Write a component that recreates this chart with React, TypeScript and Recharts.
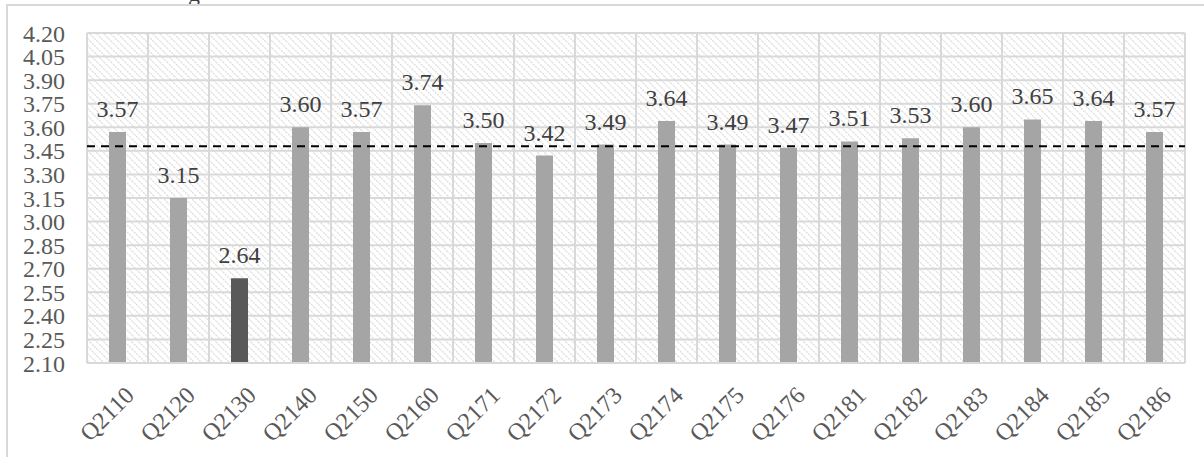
import React from "react";
import {
  BarChart,
  Bar,
  Cell,
  XAxis,
  YAxis,
  CartesianGrid,
  ReferenceLine,
  LabelList,
} from "recharts";

const categories = [
  "Q2110", "Q2120", "Q2130", "Q2140", "Q2150", "Q2160", "Q2171", "Q2172", "Q2173",
  "Q2174", "Q2175", "Q2176", "Q2181", "Q2182", "Q2183", "Q2184", "Q2185", "Q2186",
];
const scores = [
  3.57, 3.15, 2.64, 3.6, 3.57, 3.74, 3.5, 3.42, 3.49,
  3.64, 3.49, 3.47, 3.51, 3.53, 3.6, 3.65, 3.64, 3.57,
];
const highlighted = ["Q2130"];
const yTicks = [2.1, 2.25, 2.4, 2.55, 2.7, 2.85, 3.0, 3.15, 3.3, 3.45, 3.6, 3.75, 3.9, 4.05, 4.2];
const averageScore = 3.48;

const data = categories.map((q, i) => ({ q, score: scores[i] }));

const FONT = "'Liberation Serif', 'Times New Roman', serif";

// vertical grid lines sit on the category boundaries, not the centres
const boundaryLines = ({ offset }: any) => {
  const step = offset.width / categories.length;
  return Array.from({ length: categories.length + 1 }, (_, i) => offset.left + i * step);
};

const XTick = ({ x, y, payload }: any) => (
  <text
    x={x + 6}
    y={y + 14}
    transform={`rotate(-45, ${x + 6}, ${y + 14})`}
    textAnchor="end"
    dominantBaseline="hanging"
    fill="#595959"
    fontSize={24}
    fontFamily={FONT}
  >
    {payload.value}
  </text>
);

export default function App() {
  return (
    <div
      style={{
        position: "absolute",
        left: 0,
        top: 0,
        width: 1204,
        height: 457,
        overflow: "hidden",
        background: "#fff",
      }}
    >
      <div
        style={{
          position: "absolute",
          left: 188,
          top: -17,
          fontFamily: FONT,
          fontSize: 24,
          color: "#404040",
          lineHeight: "20px",
        }}
      >
        g
      </div>
      <div
        style={{
          position: "absolute",
          left: 6,
          top: 4,
          width: 1210,
          height: 470,
          border: "2px solid #d9d9d9",
        }}
      />
      <div style={{ position: "absolute", left: 0, top: 0 }}>
        <BarChart
          width={1204}
          height={457}
          data={data}
          margin={{ top: 33, right: 19, left: 0, bottom: 0 }}
          barSize={17}
        >
          <defs>
            <pattern id="hatch" width="7" height="7" patternUnits="userSpaceOnUse">
              <rect width="7" height="7" fill="#ffffff" />
              <path
                d="M-1,-1 L8,8 M-1,6 L1,8 M6,-1 L8,1"
                stroke="#dcdcdc"
                strokeWidth={1.2}
                strokeDasharray="2 1"
              />
            </pattern>
          </defs>
          <CartesianGrid
            fill="url(#hatch)"
            fillOpacity={1}
            stroke="#d9d9d9"
            strokeWidth={2}
            verticalCoordinatesGenerator={boundaryLines}
          />
          <XAxis
            dataKey="q"
            height={94}
            interval={0}
            axisLine={{ stroke: "#d9d9d9", strokeWidth: 2 }}
            tickLine={false}
            tick={<XTick />}
          />
          <YAxis
            width={87}
            domain={[2.1, 4.2]}
            ticks={yTicks}
            interval={0}
            axisLine={false}
            tickLine={false}
            tickSize={0}
            tickMargin={22}
            tickFormatter={(v: number) => v.toFixed(2)}
            tick={{ fill: "#595959", fontSize: 24, fontFamily: FONT }}
          />
          <Bar dataKey="score" isAnimationActive={false}>
            {data.map((d) => (
              <Cell
                key={d.q}
                fill={highlighted.includes(d.q) ? "#595959" : "#a5a5a5"}
              />
            ))}
            <LabelList
              dataKey="score"
              position="top"
              offset={15}
              formatter={(v: any) => Number(v).toFixed(2)}
              style={{ fill: "#404040", fontSize: 24, fontFamily: FONT }}
            />
          </Bar>
          <ReferenceLine
            y={averageScore}
            stroke="#000000"
            strokeWidth={2}
            strokeDasharray="8 6"
          />
        </BarChart>
      </div>
    </div>
  );
}
